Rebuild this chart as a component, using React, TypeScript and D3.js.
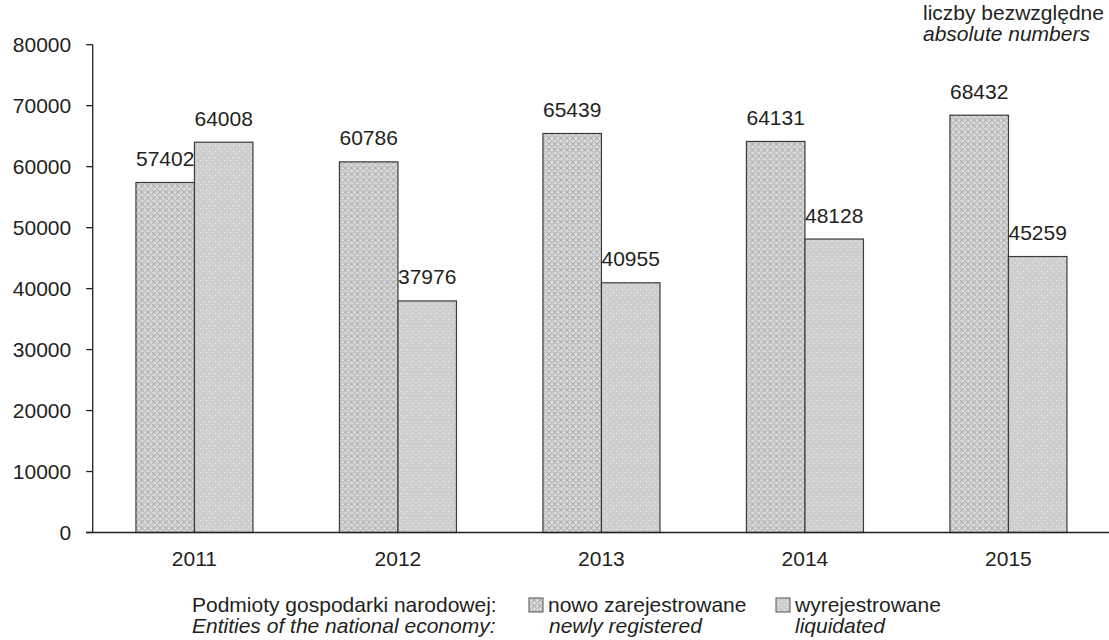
import React from "react";
import * as d3 from "d3";

const years = ["2011", "2012", "2013", "2014", "2015"];
const newlyRegistered = [57402, 60786, 65439, 64131, 68432];
const liquidated = [64008, 37976, 40955, 48128, 45259];
const yTicks = [0, 10000, 20000, 30000, 40000, 50000, 60000, 70000, 80000];

const W = 1109;
const H = 640;
const FONT = "'Liberation Sans', Arial, sans-serif";
const TXT = "#231f20";

export default function App() {
  const x0 = 92.7;
  const step = 203.5;
  const x = d3.scaleBand<string>().domain(years).range([x0, x0 + step * years.length]).paddingInner(0.425).paddingOuter(0.2125);
  const xs = d3.scaleBand<string>().domain(["n", "l"]).range([0, x.bandwidth()]).padding(0);
  const y = d3.scaleLinear().domain([0, 80000]).range([532.5, 44.7]);
  const series = [
    { key: "n", values: newlyRegistered, fill: "url(#patA)" },
    { key: "l", values: liquidated, fill: "url(#patB)" },
  ];
  const fs = 21;
  return (
    <svg width={W} height={H} style={{ position: "absolute", left: 0, top: 0, background: "#fff" }} fontFamily={FONT}>
      <defs>
        <pattern id="patA" width="6" height="6" patternUnits="userSpaceOnUse">
          <rect width="6" height="6" fill="#d0d0d0" />
          <path d="M0,0 L6,6 M6,0 L0,6" stroke="#aaaaaa" strokeWidth="0.9" />
          <rect x="2.5" y="0" width="1" height="1" fill="#f6f6f6" />
          <rect x="0" y="2.5" width="1" height="1" fill="#f6f6f6" />
          <rect x="2.5" y="2.5" width="1.2" height="1.2" fill="#ececec" />
        </pattern>
        <pattern id="patB" width="6" height="6" patternUnits="userSpaceOnUse">
          <rect width="6" height="6" fill="#cecece" />
          <rect x="1" y="1" width="1" height="1" fill="#f4f4f4" />
          <rect x="4" y="4" width="1" height="1" fill="#eeeeee" />
        </pattern>
      </defs>

      {/* y axis */}
      <line x1={x0} x2={x0} y1={y(80000)} y2={y(0)} stroke="#231f20" strokeWidth={1.3} />
      {yTicks.map((t) => (
        <g key={t}>
          <line x1={x0 - 6.5} x2={x0} y1={y(t)} y2={y(t)} stroke="#231f20" strokeWidth={1.3} />
          <text x={x0 - 21.5} y={y(t)} dy="0.35em" textAnchor="end" fontSize={fs} fill={TXT}>
            {t}
          </text>
        </g>
      ))}

      {/* bars */}
      {years.map((yr, i) => (
        <g key={yr} transform={`translate(${x(yr)},0)`}>
          {series.map((s) => (
            <g key={s.key}>
              <rect
                x={xs(s.key)}
                y={y(s.values[i])}
                width={xs.bandwidth()}
                height={y(0) - y(s.values[i])}
                fill={s.fill}
                stroke="#3a3a3a"
                strokeWidth={1.2}
              />
              <text
                x={(xs(s.key) as number) + xs.bandwidth() / 2}
                y={y(s.values[i]) - 16.5}
                textAnchor="middle"
                fontSize={fs}
                fill={TXT}
              >
                {s.values[i]}
              </text>
            </g>
          ))}
          <text x={x.bandwidth() / 2} y={566} textAnchor="middle" fontSize={fs} fill={TXT}>
            {yr}
          </text>
        </g>
      ))}

      {/* x axis */}
      <line x1={86} x2={W} y1={y(0)} y2={y(0)} stroke="#231f20" strokeWidth={1.3} />

      {/* unit label */}
      <text x={923} y={20} fontSize={fs} fill={TXT}>liczby bezwzględne</text>
      <text x={923} y={41} fontSize={fs} fill={TXT} fontStyle="italic">absolute numbers</text>

      {/* legend */}
      <text x={192} y={612} fontSize={fs} fill={TXT}>Podmioty gospodarki narodowej:</text>
      <text x={192} y={633} fontSize={fs} fill={TXT} fontStyle="italic">Entities of the national economy:</text>
      <rect x={529} y={598} width={14} height={14} fill="url(#patA)" stroke="#555" strokeWidth={1} />
      <text x={548} y={612} fontSize={fs} fill={TXT}>nowo zarejestrowane</text>
      <text x={549} y={633} fontSize={fs} fill={TXT} fontStyle="italic">newly registered</text>
      <rect x={776} y={598} width={14} height={14} fill="url(#patB)" stroke="#555" strokeWidth={1} />
      <text x={795} y={612} fontSize={fs} fill={TXT}>wyrejestrowane</text>
      <text x={795} y={633} fontSize={fs} fill={TXT} fontStyle="italic">liquidated</text>
    </svg>
  );
}
